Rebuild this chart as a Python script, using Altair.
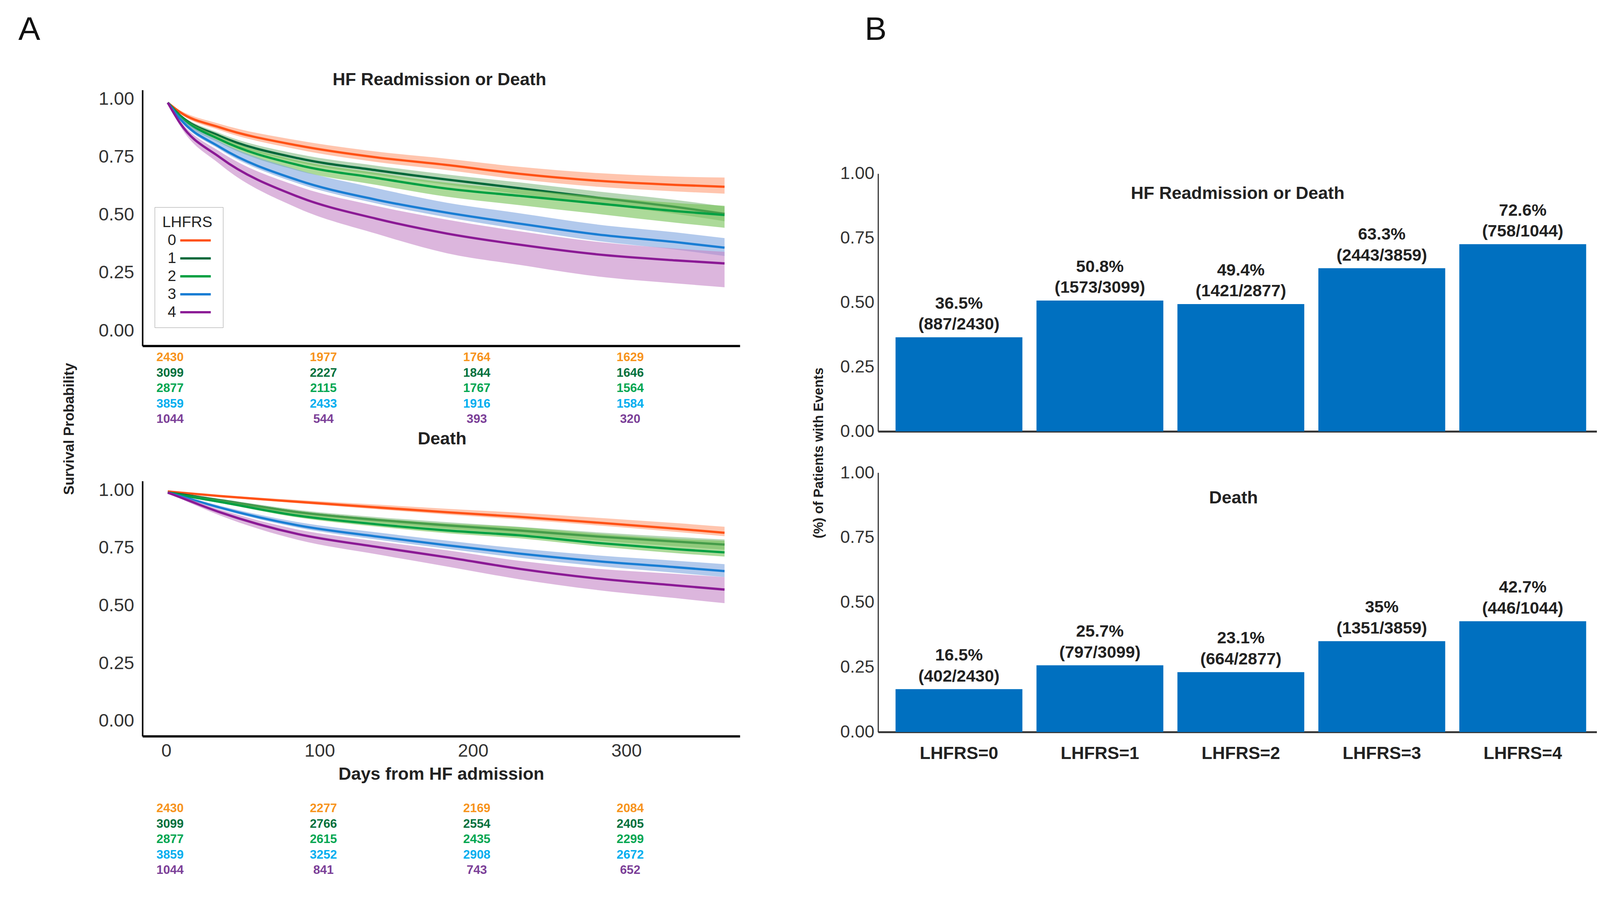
import altair as alt
import pandas as pd

FONT = "Liberation Sans"
GROUPS = ["0", "1", "2", "3", "4"]
LINE_COLORS = ["#FF5216", "#00683A", "#00A043", "#1A7ED4", "#8B1A95"]
BAND_COLORS = ["#FF9E78", "#86BB84", "#74C255", "#7FA5E0", "#C585C6"]
TABLE_COLORS = ["#F7941D", "#00703C", "#00A651", "#00AEEF", "#7B3F98"]

DAYS = [1, 9, 35, 86, 137, 183, 230, 281, 332, 364]

# ---- Panel A, top: HF readmission or death (estimate, lower, upper) ----
RD_EST_0 = [0.985, 0.944, 0.878, 0.800, 0.749, 0.716, 0.678, 0.648, 0.630, 0.622]
RD_LO_0 = [0.985, 0.938, 0.866, 0.783, 0.729, 0.694, 0.654, 0.622, 0.602, 0.592]
RD_HI_0 = [0.985, 0.952, 0.893, 0.822, 0.774, 0.743, 0.708, 0.681, 0.666, 0.662]
RD_EST_1 = [0.985, 0.930, 0.841, 0.745, 0.693, 0.653, 0.616, 0.575, 0.535, 0.505]
RD_LO_1 = [0.985, 0.924, 0.829, 0.727, 0.673, 0.631, 0.591, 0.548, 0.505, 0.473]
RD_HI_1 = [0.985, 0.936, 0.853, 0.763, 0.713, 0.675, 0.641, 0.602, 0.565, 0.537]
RD_EST_2 = [0.985, 0.926, 0.826, 0.716, 0.660, 0.614, 0.583, 0.550, 0.517, 0.500]
RD_LO_2 = [0.985, 0.918, 0.811, 0.691, 0.630, 0.579, 0.543, 0.505, 0.467, 0.445]
RD_HI_2 = [0.985, 0.932, 0.838, 0.736, 0.682, 0.639, 0.611, 0.580, 0.552, 0.540]
RD_EST_3 = [0.985, 0.915, 0.793, 0.650, 0.566, 0.510, 0.463, 0.416, 0.383, 0.359]
RD_LO_3 = [0.985, 0.909, 0.783, 0.636, 0.550, 0.490, 0.439, 0.388, 0.351, 0.323]
RD_HI_3 = [0.985, 0.925, 0.818, 0.695, 0.616, 0.553, 0.508, 0.459, 0.425, 0.400]
RD_EST_4 = [0.985, 0.897, 0.749, 0.579, 0.484, 0.420, 0.372, 0.330, 0.304, 0.291]
RD_LO_4 = [0.985, 0.885, 0.719, 0.529, 0.419, 0.335, 0.285, 0.235, 0.205, 0.188]
RD_HI_4 = [0.985, 0.907, 0.774, 0.624, 0.539, 0.480, 0.430, 0.384, 0.355, 0.341]

# ---- Panel A, bottom: death ----
D_EST_0 = [0.995, 0.990, 0.975, 0.950, 0.926, 0.905, 0.885, 0.860, 0.834, 0.816]
D_LO_0 = [0.995, 0.988, 0.971, 0.944, 0.918, 0.895, 0.874, 0.848, 0.820, 0.801]
D_HI_0 = [0.995, 0.992, 0.979, 0.958, 0.938, 0.920, 0.903, 0.881, 0.858, 0.842]
D_EST_1 = [0.990, 0.983, 0.957, 0.905, 0.872, 0.848, 0.826, 0.800, 0.778, 0.765]
D_LO_1 = [0.990, 0.980, 0.951, 0.895, 0.860, 0.834, 0.810, 0.782, 0.758, 0.743]
D_HI_1 = [0.990, 0.986, 0.963, 0.915, 0.884, 0.862, 0.842, 0.818, 0.798, 0.787]
D_EST_2 = [0.990, 0.980, 0.950, 0.890, 0.853, 0.826, 0.805, 0.772, 0.745, 0.731]
D_LO_2 = [0.990, 0.977, 0.945, 0.882, 0.843, 0.814, 0.792, 0.757, 0.728, 0.713]
D_HI_2 = [0.990, 0.984, 0.960, 0.910, 0.878, 0.856, 0.840, 0.812, 0.790, 0.781]
D_EST_3 = [0.990, 0.975, 0.925, 0.848, 0.800, 0.762, 0.726, 0.693, 0.667, 0.650]
D_LO_3 = [0.990, 0.972, 0.919, 0.838, 0.787, 0.747, 0.708, 0.672, 0.643, 0.624]
D_HI_3 = [0.990, 0.978, 0.933, 0.862, 0.818, 0.782, 0.748, 0.718, 0.695, 0.680]
D_EST_4 = [0.990, 0.970, 0.905, 0.810, 0.755, 0.710, 0.660, 0.618, 0.588, 0.570]
D_LO_4 = [0.990, 0.965, 0.891, 0.785, 0.723, 0.670, 0.615, 0.568, 0.533, 0.511]
D_HI_4 = [0.990, 0.975, 0.917, 0.830, 0.780, 0.740, 0.695, 0.660, 0.638, 0.624]

# ---- Number at risk ----
RISK_DAYS = [0, 100, 200, 300]
RD_RISK_0 = [2430, 1977, 1764, 1629]
RD_RISK_1 = [3099, 2227, 1844, 1646]
RD_RISK_2 = [2877, 2115, 1767, 1564]
RD_RISK_3 = [3859, 2433, 1916, 1584]
RD_RISK_4 = [1044, 544, 393, 320]
D_RISK_0 = [2430, 2277, 2169, 2084]
D_RISK_1 = [3099, 2766, 2554, 2405]
D_RISK_2 = [2877, 2615, 2435, 2299]
D_RISK_3 = [3859, 3252, 2908, 2672]
D_RISK_4 = [1044, 841, 743, 652]

# ---- Panel B ----
CATS = ["LHFRS=0", "LHFRS=1", "LHFRS=2", "LHFRS=3", "LHFRS=4"]
TOTALS = [2430, 3099, 2877, 3859, 1044]
RD_EVENTS = [887, 1573, 1421, 2443, 758]
DEATH_EVENTS = [402, 797, 664, 1351, 446]

# ---------------- geometry (pixels inside one shared view) ----------------
W, H = 3810, 2060
LX = [0, 1565]                 # survival plots, horizontal range
TOP_Y = [670, 0]               # top survival plot
BOT_Y = [1692, 1024]           # bottom survival plot
TOP_TAB_Y = [700, 862]         # number-at-risk rows
BOT_TAB_Y = [1881, 2043]
BX = [1927, 3810]              # bar panels, horizontal range
BAR1_Y = [894, 219]
BAR2_Y = [1681, 1002]

TXT = "#222222"
TICK = "#333333"
X_DOMAIN = [-15.5, 374]
Y_DOMAIN = [-0.065, 1.04]
TICKS = [0, 0.25, 0.5, 0.75, 1.0]


def surv_frame(est, lo, hi):
    rows = []
    for g, e, l, h in zip(GROUPS, est, lo, hi):
        for d, ev, lv, hv in zip(DAYS, e, l, h):
            rows.append(dict(group=g, day=d, est=ev, lo=lv, hi=hv))
    return pd.DataFrame(rows)


def risk_frame(tables):
    rows = []
    for i, (g, vals) in enumerate(zip(GROUPS, tables)):
        for d, n in zip(RISK_DAYS, vals):
            rows.append(dict(group=g, row=i, day=d, n=str(n)))
    return pd.DataFrame(rows)


def surv_y_axis(title=None):
    kw = dict(orient="left", values=TICKS, format=".2f", ticks=False, grid=False,
              domainColor="black", domainWidth=4, labelFont=FONT, labelFontSize=48,
              labelColor=TICK, labelPadding=22)
    if title:
        kw.update(title=title, titleX=-191, titleY=887, titleAngle=270, titleAlign="center",
                  titleBaseline="middle", titleFont=FONT, titleFontSize=37,
                  titleFontWeight="bold", titleColor=TXT)
    else:
        kw.update(title=None)
    return alt.Axis(**kw)


def surv_layer(df, y_range, x_axis, y_axis, legend):
    X = alt.X("day:Q", scale=alt.Scale(domain=X_DOMAIN, range=LX, nice=False, zero=False), axis=x_axis)
    ys = alt.Scale(domain=Y_DOMAIN, range=y_range, nice=False, zero=False)
    layers = []
    for g, band in zip(GROUPS, BAND_COLORS):
        sub = alt.Chart(df).transform_filter(alt.datum.group == g)
        layers.append(
            sub.mark_area(opacity=0.6, interpolate="monotone", color=band).encode(
                x=X,
                y=alt.Y("lo:Q", scale=ys, axis=y_axis),
                y2="hi:Q",
            )
        )
        layers.append(
            sub.mark_line(strokeWidth=6, interpolate="monotone").encode(
                x=X,
                y=alt.Y("est:Q", scale=ys, axis=y_axis),
                color=alt.Color("group:N", scale=alt.Scale(domain=GROUPS, range=LINE_COLORS), legend=legend),
            )
        )
    return alt.layer(*layers)


def risk_layer(df, y_range):
    return alt.Chart(df).mark_text(font=FONT, fontSize=32, fontWeight="bold", baseline="middle", dx=10).encode(
        x=alt.X("day:Q", scale=alt.Scale(domain=X_DOMAIN, range=LX, nice=False, zero=False), axis=None),
        y=alt.Y("row:Q", scale=alt.Scale(domain=[0, 4], range=y_range, nice=False, zero=False), axis=None),
        text="n:N",
        color=alt.Color("group:N", scale=alt.Scale(domain=GROUPS, range=TABLE_COLORS), legend=None),
    )


def bar_layer(events, y_range, x_axis, y_axis):
    pct = [e / t for e, t in zip(events, TOTALS)]
    labels = [f"{round(p * 100, 1):g}%\n({e}/{t})" for p, e, t in zip(pct, events, TOTALS)]
    df = pd.DataFrame({"cat": CATS, "p": pct, "label": labels})
    X = alt.X("cat:N", sort=CATS,
              scale=alt.Scale(domain=CATS, range=BX, paddingInner=0.1, paddingOuter=0.1, align=0.62),
              axis=x_axis)
    Y = alt.Y("p:Q", scale=alt.Scale(domain=[0, 1], range=y_range, nice=False), axis=y_axis)
    bars = alt.Chart(df).mark_bar(color="#0070C0").encode(x=X, y=Y)
    text = alt.Chart(df).mark_text(font=FONT, fontSize=44, fontWeight="bold", lineBreak="\n",
                                   lineHeight=55, baseline="bottom", dy=-66, color=TXT).encode(
        x=X, y=Y, text="label:N")
    return alt.layer(bars, text)


def note(label, x, y, size=46, weight="bold", align="center", baseline="middle", color=TXT):
    return alt.Chart(pd.DataFrame({"t": [label]})).mark_text(
        font=FONT, fontSize=size, fontWeight=weight, align=align, baseline=baseline, color=color
    ).encode(x=alt.value(x), y=alt.value(y), text="t:N")


# ---------------- Panel A ----------------
rd_df = surv_frame([RD_EST_0, RD_EST_1, RD_EST_2, RD_EST_3, RD_EST_4],
                   [RD_LO_0, RD_LO_1, RD_LO_2, RD_LO_3, RD_LO_4],
                   [RD_HI_0, RD_HI_1, RD_HI_2, RD_HI_3, RD_HI_4])
d_df = surv_frame([D_EST_0, D_EST_1, D_EST_2, D_EST_3, D_EST_4],
                  [D_LO_0, D_LO_1, D_LO_2, D_LO_3, D_LO_4],
                  [D_HI_0, D_HI_1, D_HI_2, D_HI_3, D_HI_4])

# legend: label on the left, a long stroke on the right (as in the reference)
legend = alt.Legend(
    title="LHFRS", orient="none", legendX=32, legendY=307, direction="vertical",
    strokeColor="#9a9a9a", fillColor="white", padding=20, cornerRadius=0,
    titleFont=FONT, titleFontSize=40, titleFontWeight="normal", titleColor=TXT, titlePadding=4,
    labelFont=FONT, labelFontSize=40, labelColor=TXT, labelAlign="left",
    labelOffset={"expr": "-96"},
    symbolType="M-2,0L2,0", symbolSize=1600, symbolStrokeWidth=6, symbolOffset=64,
    symbolFillColor="transparent", rowPadding=4,
)

x_axis_top = alt.Axis(orient="bottom", offset={"expr": str(TOP_Y[0] - H)}, labels=False, ticks=False,
                      grid=False, title=None, domainColor="black", domainWidth=6)
x_axis_bot = alt.Axis(orient="bottom", offset={"expr": str(BOT_Y[0] - H)}, values=[0, 100, 200, 300],
                      format="d", ticks=False, grid=False, domainColor="black", domainWidth=6,
                      labelFont=FONT, labelFontSize=48, labelColor=TICK, labelPadding=15,
                      title="Days from HF admission", titleFont=FONT, titleFontSize=46,
                      titleFontWeight="bold", titleColor=TXT, titlePadding=14)

top_surv = surv_layer(rd_df, TOP_Y, x_axis_top, surv_y_axis("Survival Probability"), legend)
bot_surv = surv_layer(d_df, BOT_Y, x_axis_bot, surv_y_axis(None), None)
top_tab = risk_layer(risk_frame([RD_RISK_0, RD_RISK_1, RD_RISK_2, RD_RISK_3, RD_RISK_4]), TOP_TAB_Y)
bot_tab = risk_layer(risk_frame([D_RISK_0, D_RISK_1, D_RISK_2, D_RISK_3, D_RISK_4]), BOT_TAB_Y)

# ---------------- Panel B ----------------
def bar_y_axis(title=None):
    kw = dict(orient="left", offset={"expr": str(-BX[0])}, values=TICKS, format=".2f", ticks=False,
              grid=False, domainColor="#333333", domainWidth=3, labelFont=FONT, labelFontSize=46,
              labelColor=TICK, labelPadding=10)
    if title:
        kw.update(title=title, titleX=-156, titleY=950, titleAngle=270, titleAlign="center",
                  titleBaseline="middle", titleFont=FONT, titleFontSize=35,
                  titleFontWeight="bold", titleColor=TXT)
    else:
        kw.update(title=None)
    return alt.Axis(**kw)


bx_top = alt.Axis(orient="bottom", offset={"expr": str(BAR1_Y[0] - H)}, labels=False, ticks=False,
                  grid=False, title=None, domainColor="#333333", domainWidth=5)
bx_bot = alt.Axis(orient="bottom", offset={"expr": str(BAR2_Y[0] - H)}, labelAngle=0, ticks=False,
                  grid=False, title=None, domainColor="#333333", domainWidth=5, labelFont=FONT,
                  labelFontSize=46, labelFontWeight="bold", labelColor=TXT, labelPadding=34,
                  labelLimit=600)

top_bars = bar_layer(RD_EVENTS, BAR1_Y, bx_top, bar_y_axis("(%) of Patients with Events"))
bot_bars = bar_layer(DEATH_EVENTS, BAR2_Y, bx_bot, bar_y_axis(None))

# ---------------- titles and panel letters ----------------
notes = [
    note("A", -325, -131, size=86, weight="normal", align="left", baseline="alphabetic", color="#111111"),
    note("B", 1892, -131, size=86, weight="normal", align="left", baseline="alphabetic", color="#111111"),
    note("HF Readmission or Death", 778, -26),
    note("Death", 785, 914),
    note("HF Readmission or Death", 2869, 271),
    note("Death", 2858, 1068),
]

chart = alt.layer(
    top_surv, top_tab, bot_surv, bot_tab, top_bars, bot_bars, *notes
).resolve_scale(
    x="independent", y="independent", color="independent"
).properties(
    width=W, height=H,
    padding={"left": 40, "top": 1, "right": 0, "bottom": 0},
).configure(font=FONT).configure_view(stroke=None)

chart.save("out.html", embed_options={"renderer": "svg", "actions": False})
